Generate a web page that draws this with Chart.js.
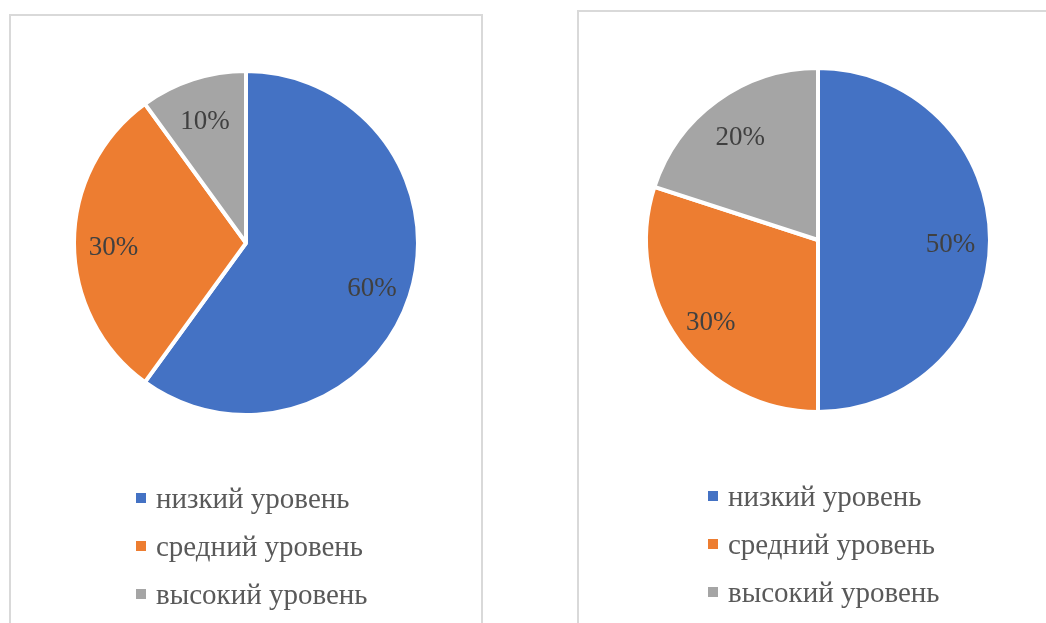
<!DOCTYPE html>
<html>
<head>
<meta charset="utf-8">
<script src="https://cdn.jsdelivr.net/npm/chart.js@4/dist/chart.umd.min.js"></script>
<style>
  html, body { margin: 0; padding: 0; background: #fff; overflow: hidden; }
  .box { position: absolute; border: 2px solid #d9d9d9; background: #fff; }
  #boxLeft { left: 9px; top: 14px; width: 470px; height: 640px; }
  #boxRight { left: 577px; top: 10px; width: 500px; height: 640px; }
  canvas { position: absolute; left: 0; top: 0; }
</style>
</head>
<body>
<div class="box" id="boxLeft"><canvas id="pieLeft" width="470" height="607"></canvas></div>
<div class="box" id="boxRight"><canvas id="pieRight" width="467" height="611"></canvas></div>
<script>
(function () {
  'use strict';

  var categories = ['низкий уровень', 'средний уровень', 'высокий уровень'];
  var leftValues = [60, 30, 10];
  var rightValues = [50, 30, 20];
  var colors = ['#4472C4', '#ED7D31', '#A5A5A5'];

  var serif = "'Liberation Serif', 'Times New Roman', serif";

  // data labels + vertical legend, drawn the way the office chart does it
  var pieText = {
    id: 'pieText',
    afterDraw: function (chart, args, opts) {
      var ctx = chart.ctx;
      var meta = chart.getDatasetMeta(0);
      var values = chart.data.datasets[0].data;
      ctx.save();
      ctx.font = '27px ' + serif;
      ctx.fillStyle = '#404040';
      ctx.textAlign = 'center';
      ctx.textBaseline = 'middle';
      meta.data.forEach(function (arc, i) {
        var p = arc.getProps(['x', 'y', 'startAngle', 'endAngle', 'outerRadius'], true);
        var mid = (p.startAngle + p.endAngle) / 2;
        var r = p.outerRadius * 0.77;
        ctx.fillText(values[i] + '%', p.x + Math.cos(mid) * r, p.y + Math.sin(mid) * r + 5);
      });

      ctx.font = '29px ' + serif;
      ctx.textAlign = 'left';
      ctx.textBaseline = 'alphabetic';
      chart.data.labels.forEach(function (lab, i) {
        var base = opts.legendY + i * opts.legendStep;
        ctx.fillStyle = chart.data.datasets[0].backgroundColor[i];
        ctx.fillRect(opts.legendX, base - 15, 10, 10);
        ctx.fillStyle = '#595959';
        ctx.fillText(lab, opts.legendX + 20, base);
      });
      ctx.restore();
    }
  };

  function pie(id, values, pad, legend) {
    return new Chart(document.getElementById(id), {
      type: 'pie',
      data: {
        labels: categories,
        datasets: [{
          data: values,
          backgroundColor: colors,
          borderColor: '#ffffff',
          borderWidth: 4
        }]
      },
      options: {
        responsive: false,
        animation: false,
        layout: { padding: pad },
        plugins: {
          legend: { display: false },
          tooltip: { enabled: false },
          pieText: legend
        }
      },
      plugins: [pieText]
    });
  }

  pie('pieLeft', leftValues,
    { left: 61, top: 53, right: 61, bottom: 206 },
    { legendX: 125, legendY: 492, legendStep: 48 });

  pie('pieRight', rightValues,
    { left: 65, top: 54, right: 54, bottom: 209 },
    { legendX: 129, legendY: 494, legendStep: 48 });
})();
</script>
</body>
</html>
